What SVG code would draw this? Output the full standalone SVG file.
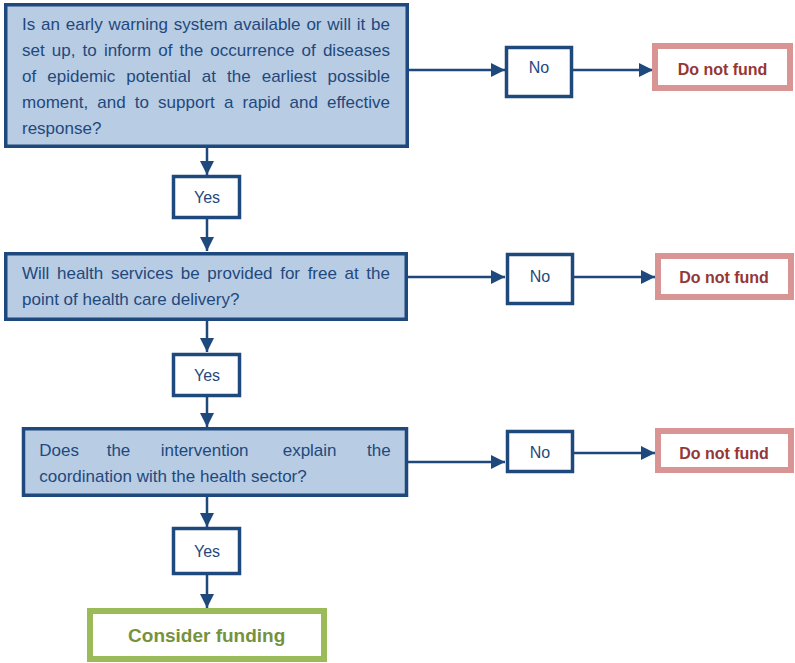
<svg xmlns="http://www.w3.org/2000/svg" width="795" height="663" viewBox="0 0 795 663">
<defs>
<marker id="ah" markerUnits="userSpaceOnUse" markerWidth="14" markerHeight="14" refX="14" refY="7" orient="auto">
<path d="M0,0 L14,7 L0,14 z" fill="#1F497D"/>
</marker>
<style>
.q{fill:#B8CCE4;stroke:#1F497D;stroke-width:3.5}
.ans{fill:#FFFFFF;stroke:#1F497D;stroke-width:3.5}
.nf{fill:#FFFFFF;stroke:#D99594;stroke-width:6}
.cf{fill:#FFFFFF;stroke:#9BBB59;stroke-width:6}
.qt{font-family:"Liberation Sans",Arial,sans-serif;font-size:17px;fill:#1F497D}
.at{font-family:"Liberation Sans",Arial,sans-serif;font-size:16px;fill:#1F497D;text-anchor:middle}
.nft{font-family:"Liberation Sans",Arial,sans-serif;font-size:16px;font-weight:bold;fill:#953735;text-anchor:middle}
.cft{font-family:"Liberation Sans",Arial,sans-serif;font-size:19px;font-weight:bold;fill:#76923C;text-anchor:middle}
.c{fill:none;stroke:#1F497D;stroke-width:2.5;marker-end:url(#ah)}
</style>
</defs>
<g id="connectors">
<line class="c" x1="408" y1="70" x2="505" y2="70"/>
<line class="c" x1="573" y1="70" x2="653" y2="70"/>
<line class="c" x1="207" y1="148" x2="207" y2="175"/>
<line class="c" x1="207" y1="219" x2="207" y2="251"/>
<line class="c" x1="408" y1="277" x2="505" y2="277"/>
<line class="c" x1="574" y1="277" x2="655" y2="277"/>
<line class="c" x1="207" y1="321" x2="207" y2="352"/>
<line class="c" x1="207" y1="397" x2="207" y2="427"/>
<line class="c" x1="408" y1="462" x2="505" y2="462"/>
<line class="c" x1="574" y1="453" x2="655" y2="453"/>
<line class="c" x1="207" y1="497" x2="207" y2="527"/>
<line class="c" x1="207" y1="575" x2="207" y2="608"/>
</g>
<g id="q1">
<rect class="q" x="5.75" y="4.75" width="401.5" height="141.5"/>
<text class="qt" x="22" y="30" textLength="368" lengthAdjust="spacing" word-spacing="1.1">Is an early warning system available or will it be</text>
<text class="qt" x="22" y="56" textLength="368" lengthAdjust="spacing" word-spacing="2.4">set up, to inform of the occurrence of diseases</text>
<text class="qt" x="22" y="82" textLength="368" lengthAdjust="spacing" word-spacing="6.3">of epidemic potential at the earliest possible</text>
<text class="qt" x="22" y="108" textLength="368" lengthAdjust="spacing" word-spacing="4.4">moment, and to support a rapid and effective</text>
<text class="qt" x="22" y="134">response?</text>
</g>
<g id="no1">
<rect class="ans" x="506.5" y="47.5" width="65" height="49"/>
<text class="at" x="539" y="73">No</text>
</g>
<g id="dnf1">
<rect class="nf" x="655" y="46" width="135" height="42"/>
<text class="nft" x="722.5" y="75">Do not fund</text>
</g>
<g id="yes1">
<rect class="ans" x="173.5" y="176.5" width="66" height="41"/>
<text class="at" x="207" y="203">Yes</text>
</g>
<g id="q2">
<rect class="q" x="5.75" y="253.75" width="400.5" height="65.5"/>
<text class="qt" x="22" y="279" textLength="368" lengthAdjust="spacing" word-spacing="2.9">Will health services be provided for free at the</text>
<text class="qt" x="22" y="305">point of health care delivery?</text>
</g>
<g id="no2">
<rect class="ans" x="507.5" y="254.5" width="65" height="49"/>
<text class="at" x="540" y="281.5">No</text>
</g>
<g id="dnf2">
<rect class="nf" x="658" y="256" width="133" height="41"/>
<text class="nft" x="724" y="283">Do not fund</text>
</g>
<g id="yes2">
<rect class="ans" x="173.5" y="354.5" width="66" height="41"/>
<text class="at" x="207" y="381">Yes</text>
</g>
<g id="q3">
<rect class="q" x="23.5" y="428.75" width="383" height="66.5"/>
<text class="qt" y="456"><tspan x="39.3">Does</tspan><tspan x="106.7">the</tspan><tspan x="160.7">intervention</tspan><tspan x="282.7">explain</tspan></text>
<text class="qt" x="390.7" y="456" text-anchor="end">the</text>
<text class="qt" x="39.3" y="482">coordination with the health sector?</text>
</g>
<g id="no3">
<rect class="ans" x="507.5" y="431.5" width="65" height="40"/>
<text class="at" x="540" y="458">No</text>
</g>
<g id="dnf3">
<rect class="nf" x="658" y="431" width="133" height="39"/>
<text class="nft" x="724" y="459">Do not fund</text>
</g>
<g id="yes3">
<rect class="ans" x="173.5" y="528.5" width="66" height="45"/>
<text class="at" x="207" y="557">Yes</text>
</g>
<g id="consider">
<rect class="cf" x="90" y="611" width="234" height="48"/>
<text class="cft" x="206.7" y="642">Consider funding</text>
</g>
</svg>
